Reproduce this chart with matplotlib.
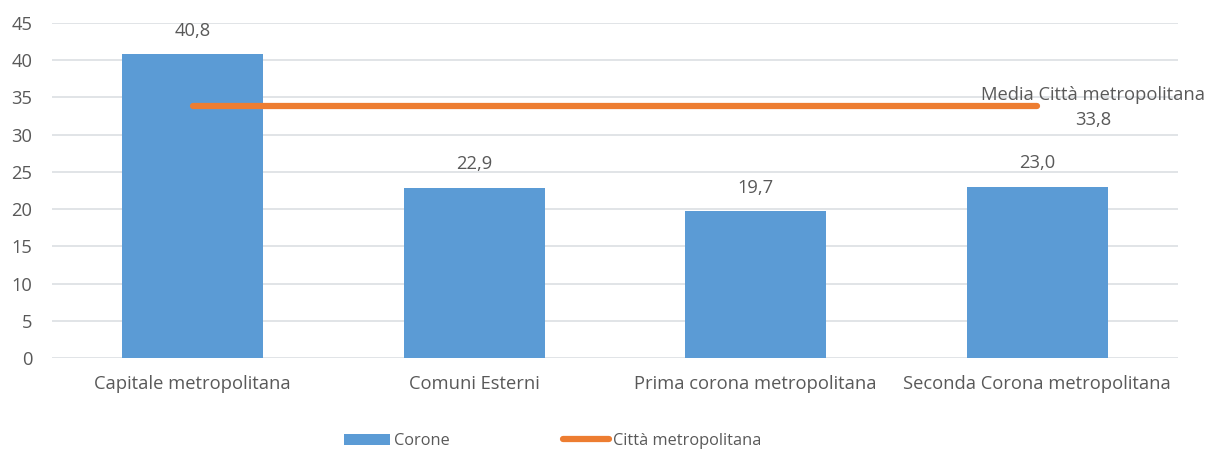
import matplotlib.pyplot as plt
import numpy as np

plt.rcParams['font.family'] = ['Open Sans', 'DejaVu Sans']

categories = ['Capitale metropolitana', 'Comuni Esterni', 'Prima corona metropolitana', 'Seconda Corona metropolitana']
corone = [40.8, 22.9, 19.7, 23.0]
media_citta = 33.8
yticks = [0, 5, 10, 15, 20, 25, 30, 35, 40, 45]

text_col = '#595959'
bar_col = '#5b9bd5'
line_col = '#ed7d31'
fs = 13.2

fig = plt.figure(figsize=(12.08, 4.5), dpi=100)
ax = fig.add_axes([52 / 1208, 1 - 358 / 450, 1126 / 1208, 335 / 450])

x = np.arange(len(categories))
bars = ax.bar(x, corone, width=0.5, color=bar_col, label='Corone', zorder=2)
line, = ax.plot([x[0], x[-1]], [media_citta, media_citta], color=line_col, lw=4.5,
                solid_capstyle='round', label='Città metropolitana', zorder=3)

# etichette valori
for xi, v in zip(x, corone):
    ax.annotate(f'{v:.1f}'.replace('.', ','), (xi, v), xytext=(0, 17), textcoords='offset points',
                ha='center', va='center', fontsize=fs, color=text_col)

ax.annotate('Media Città metropolitana', (x[-1], media_citta), xytext=(40, 8),
            textcoords='offset points', ha='center', va='center', fontsize=fs, color=text_col, zorder=4)
ax.annotate(f'{media_citta:.1f}'.replace('.', ','), (x[-1], media_citta), xytext=(40, -10),
            textcoords='offset points', ha='center', va='center', fontsize=fs, color=text_col, zorder=4)

ax.set_xlim(-0.5, len(categories) - 0.5)
ax.set_ylim(0, 45)
ax.set_yticks(yticks)
ax.set_xticks(x)
ax.set_xticklabels(categories)
ax.tick_params(axis='both', length=0, labelsize=fs, colors=text_col)
ax.tick_params(axis='x', pad=12)
ax.tick_params(axis='y', pad=14)
ax.grid(axis='y', color='#dcdfe3', lw=1.2, zorder=0)
for s in ax.spines.values():
    s.set_visible(False)

fig.legend([bars, line], ['Corone', 'Città metropolitana'], loc='center',
           bbox_to_anchor=(553 / 1208, 1 - 441 / 450), ncol=2, frameon=False,
           fontsize=11.8, labelcolor=text_col, handlelength=2.8, handletextpad=0.25,
           columnspacing=6.9, handleheight=0.7, borderpad=0.1)

fig.savefig('out.png', dpi=100)
